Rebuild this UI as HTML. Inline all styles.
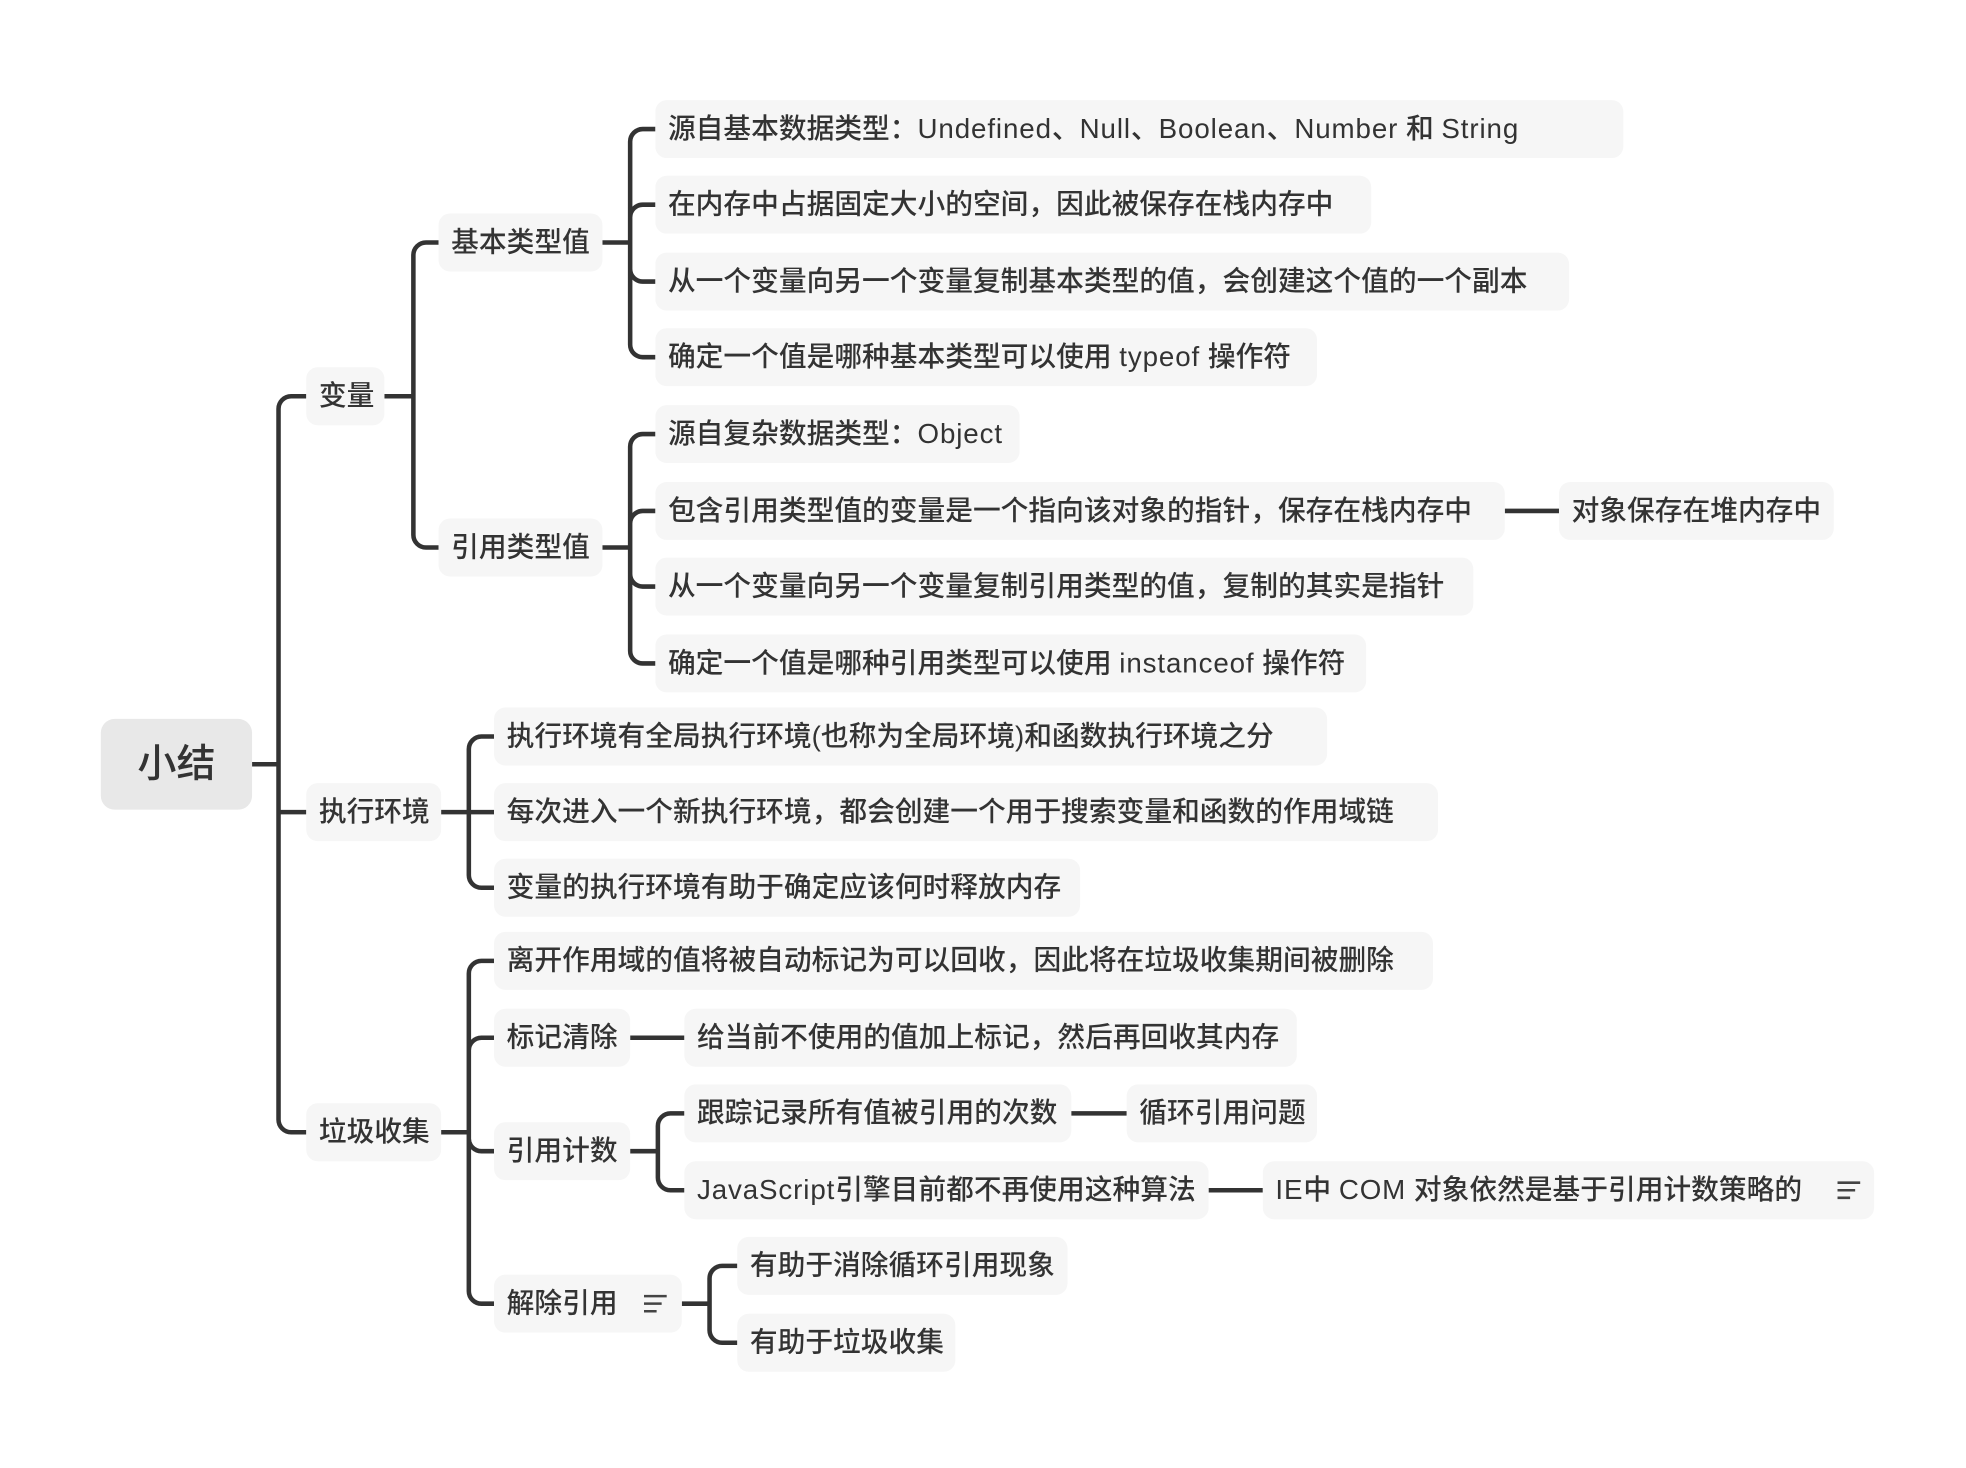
<!DOCTYPE html>
<html><head><meta charset="utf-8"><style>
html,body{margin:0;padding:0;background:#fff;}
body{width:1966px;height:1468px;overflow:hidden;position:relative;}
#w{position:absolute;left:0;top:-2px;width:1560px;height:1165px;transform:scale(1.2603);transform-origin:0 0;}
.n{position:absolute;height:46px;line-height:46px;background:#f6f6f6;border-radius:9px;box-sizing:border-box;padding-left:10px;white-space:nowrap;font-family:"Liberation Sans","Noto Sans CJK SC",sans-serif;font-size:22px;font-weight:500;color:#333;}
.l{letter-spacing:0.7px;}
.r{background:#e8e8e8;font-size:31px;height:72px;line-height:72px;text-align:center;padding:0;border-radius:11px;}
svg{position:absolute;left:0;top:0;}
</style></head><body><div id="w">
<svg width="1560" height="1165" fill="none" stroke="#333" stroke-width="3.6">
<path d="M200,608H221M243,316H231A10,10 0 0 0 221,326V890A10,10 0 0 0 231,900H243M221,646H243"/>
<path d="M305,316H328M348,194H338A10,10 0 0 0 328,204V426A10,10 0 0 0 338,436H348"/>
<path d="M478,194H500M520,104H510A10,10 0 0 0 500,114V275A10,10 0 0 0 510,285H520M500,174A10,10 0 0 1 510,164H520M500,215A10,10 0 0 0 510,225H520"/>
<path d="M478,436H500M520,346H510A10,10 0 0 0 500,356V518A10,10 0 0 0 510,528H520M500,417A10,10 0 0 1 510,407H520M500,457A10,10 0 0 0 510,467H520"/>
<path d="M1194,407H1237"/>
<path d="M350,646H392M392,586H382A10,10 0 0 0 372,596V696A10,10 0 0 0 382,706H392"/>
<path d="M350,900H372M392,764H382A10,10 0 0 0 372,774V1026A10,10 0 0 0 382,1036H392M372,835A10,10 0 0 1 382,825H392M372,905A10,10 0 0 0 382,915H392"/>
<path d="M500,825H543"/>
<path d="M500,915H522M543,885H532A10,10 0 0 0 522,895V936A10,10 0 0 0 532,946H543"/>
<path d="M850,885H894M959,946H1002"/>
<path d="M541,1036H563M585,1006H573A10,10 0 0 0 563,1016V1057A10,10 0 0 0 573,1067H585"/>
</svg>
<div class="n r" style="left:80px;top:572px;width:120px;">小结</div>
<div class="n" style="left:243px;top:293px;width:62px;">变量</div>
<div class="n" style="left:243px;top:623px;width:107px;">执行环境</div>
<div class="n" style="left:243px;top:877px;width:107px;">垃圾收集</div>
<div class="n" style="left:348px;top:171px;width:130px;">基本类型值</div>
<div class="n" style="left:348px;top:413px;width:130px;">引用类型值</div>
<div class="n" style="left:520px;top:81px;width:768px;">源自基本数据类型：<span class="l">Undefined</span>、<span class="l">Null</span>、<span class="l">Boolean</span>、<span class="l">Number</span> 和 <span class="l">String</span></div>
<div class="n" style="left:520px;top:141px;width:568px;">在内存中占据固定大小的空间，因此被保存在栈内存中</div>
<div class="n" style="left:520px;top:202px;width:725px;">从一个变量向另一个变量复制基本类型的值，会创建这个值的一个副本</div>
<div class="n" style="left:520px;top:262px;width:525px;">确定一个值是哪种基本类型可以使用 <span class="l">typeof</span> 操作符</div>
<div class="n" style="left:520px;top:323px;width:289px;">源自复杂数据类型：<span class="l">Object</span></div>
<div class="n" style="left:520px;top:384px;width:674px;">包含引用类型值的变量是一个指向该对象的指针，保存在栈内存中</div>
<div class="n" style="left:1237px;top:384px;width:218px;">对象保存在堆内存中</div>
<div class="n" style="left:520px;top:444px;width:649px;">从一个变量向另一个变量复制引用类型的值，复制的其实是指针</div>
<div class="n" style="left:520px;top:505px;width:564px;">确定一个值是哪种引用类型可以使用 <span class="l">instanceof</span> 操作符</div>
<div class="n" style="left:392px;top:563px;width:661px;">执行环境有全局执行环境(也称为全局环境)和函数执行环境之分</div>
<div class="n" style="left:392px;top:623px;width:749px;">每次进入一个新执行环境，都会创建一个用于搜索变量和函数的作用域链</div>
<div class="n" style="left:392px;top:683px;width:465px;">变量的执行环境有助于确定应该何时释放内存</div>
<div class="n" style="left:392px;top:741px;width:745px;">离开作用域的值将被自动标记为可以回收，因此将在垃圾收集期间被删除</div>
<div class="n" style="left:392px;top:802px;width:108px;">标记清除</div>
<div class="n" style="left:543px;top:802px;width:486px;">给当前不使用的值加上标记，然后再回收其内存</div>
<div class="n" style="left:392px;top:892px;width:108px;">引用计数</div>
<div class="n" style="left:543px;top:862px;width:307px;">跟踪记录所有值被引用的次数</div>
<div class="n" style="left:894px;top:862px;width:151px;">循环引用问题</div>
<div class="n" style="left:543px;top:923px;width:416px;"><span class="l">JavaScript</span>引擎目前都不再使用这种算法</div>
<div class="n" style="left:1002px;top:923px;width:485px;"><span class="l">IE</span>中 <span class="l">COM</span> 对象依然是基于引用计数策略的<svg style="left:455px;top:14px" width="20" height="18" stroke="#444" stroke-width="2"><path d="M1,3H19M1,9H15M1,15H11"/></svg></div>
<div class="n" style="left:392px;top:1013px;width:149px;">解除引用<svg style="left:118px;top:14px" width="20" height="18" stroke="#444" stroke-width="2"><path d="M1,3H19M1,9H15M1,15H11"/></svg></div>
<div class="n" style="left:585px;top:983px;width:262px;">有助于消除循环引用现象</div>
<div class="n" style="left:585px;top:1044px;width:173px;">有助于垃圾收集</div>
</div></body></html>
